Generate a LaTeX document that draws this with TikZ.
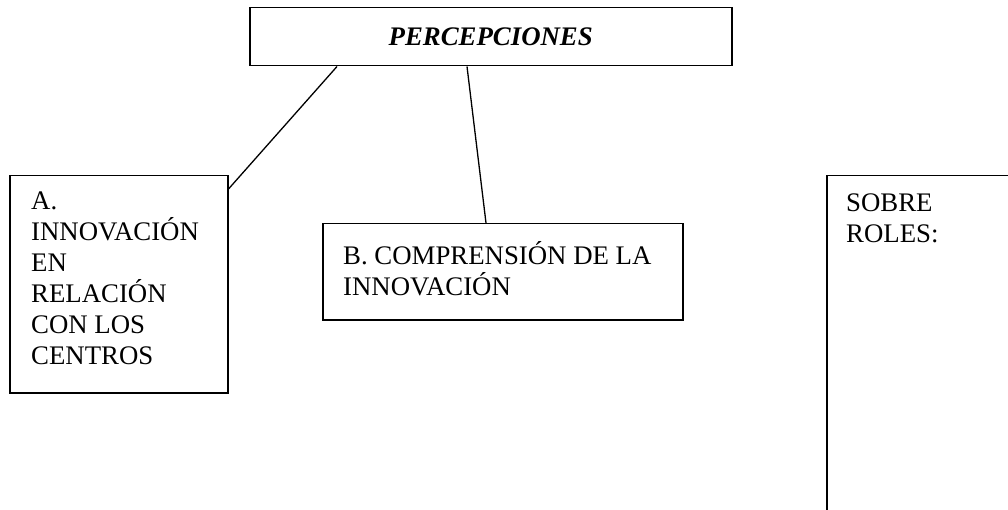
\documentclass[tikz,border=0pt]{standalone}
\usepackage{fontspec}
\setmainfont{Liberation Serif}
\usetikzlibrary{calc}
\begin{document}
\begin{tikzpicture}[x=1pt,y=-1pt,
  box/.style={draw=black, line width=1.5pt, fill=white, rectangle, inner sep=0pt, anchor=north west},
  boxtext/.style={anchor=base west, inner sep=0pt, font=\fontsize{26.8}{31}\selectfont},
  link/.style={draw=black, line width=1.3pt}]
\clip (0,0) rectangle (1008,510);
\fill[white] (0,0) rectangle (1008,510);
\node[box, minimum width=482pt, minimum height=58pt,
      font=\fontsize{26.8}{31}\selectfont\bfseries\itshape] (top) at (249,7) {PERCEPCIONES};
\node[box, minimum width=218pt, minimum height=217pt] (boxA) at (9,175) {};
\node[box, minimum width=360pt, minimum height=96pt] (boxB) at (322,223) {};
\node[box, minimum width=260pt, minimum height=400pt] (boxC) at (826,175) {};
\node[boxtext] (textA) at ($(boxA.north west)+(22,35)$)
  {\parbox[t]{200pt}{\raggedright A.\\INNOVACIÓN\\EN\\RELACIÓN\\CON LOS\\CENTROS}};
\node[boxtext] (textB) at ($(boxB.north west)+(21,42)$)
  {\parbox[t]{340pt}{\raggedright B. COMPRENSIÓN DE LA\\INNOVACIÓN}};
\node[boxtext] (textC) at ($(boxC.north west)+(20,37)$)
  {\parbox[t]{170pt}{\raggedright SOBRE\\ROLES:}};
\draw[link] ($(top.south west)+(88,0)$) -- ($(boxA.north east)+(0,14)$);
\draw[link] ($(top.south west)+(218,0)$) -- ($(boxB.north west)+(164,0)$);
\end{tikzpicture}
\end{document}
